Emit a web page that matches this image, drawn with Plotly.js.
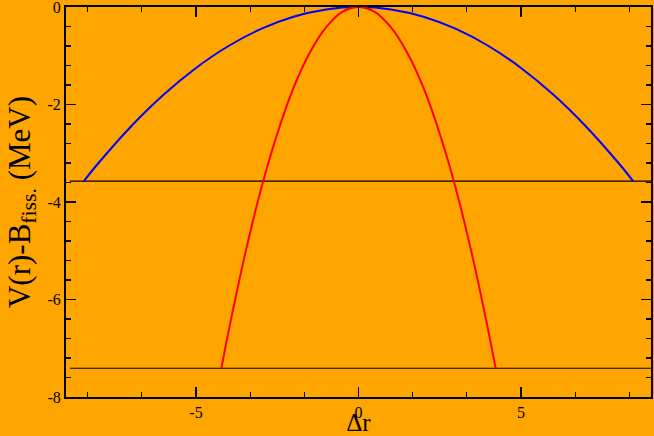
<!DOCTYPE html>
<html>
<head>
<meta charset="utf-8">
<script src="https://cdn.plot.ly/plotly-3.0.1.min.js"></script>
<style>
  html, body { margin: 0; padding: 0; background: #FFA500; }
  #plot { width: 654px; height: 436px; }
</style>
</head>
<body>
<div id="plot"></div>
<script>
// values
const blueX = [-8.45, -8, -7, -6, -5, -4, -3, -2, -1, 0, 1, 2, 3, 4, 5, 6, 7, 8, 8.45];
const blueY = [-3.57, -3.2, -2.45, -1.8, -1.25, -0.8, -0.45, -0.2, -0.05, 0, -0.05, -0.2, -0.45, -0.8, -1.25, -1.8, -2.45, -3.2, -3.57];

const redX = [-4.22, -4, -3.5, -3, -2.5, -2, -1.5, -1, -0.5, 0, 0.5, 1, 1.5, 2, 2.5, 3, 3.5, 4, 4.22];
const redY = [-7.41, -6.66, -5.1, -3.74, -2.6, -1.66, -0.94, -0.42, -0.1, 0, -0.1, -0.42, -0.94, -1.66, -2.6, -3.74, -5.1, -6.66, -7.41];

const levelX = [-8.88, 9];
const levelUpper = [-3.57, -3.57];
const levelLower = [-7.41, -7.41];

const yTicks = [-8, -6, -4, -2, 0];
const xTicks = [-5, 0, 5];

const traces = [
  { x: levelX, y: levelUpper, mode: 'lines', line: { color: '#000000', width: 1.2 } },
  { x: levelX, y: levelLower, mode: 'lines', line: { color: '#000000', width: 1.2 } },
  { x: blueX, y: blueY, mode: 'lines', line: { color: '#0000FF', width: 2, shape: 'spline' } },
  { x: redX, y: redY, mode: 'lines', line: { color: '#FF0000', width: 2, shape: 'spline' } }
];

const serif = 'Liberation Serif, Times New Roman, serif';

const layout = {
  width: 654,
  height: 436,
  paper_bgcolor: '#FFA500',
  plot_bgcolor: '#FFA500',
  showlegend: false,
  margin: { l: 66, r: 3, t: 7, b: 39 },
  xaxis: {
    range: [-9, 9],
    tickvals: xTicks,
    ticktext: xTicks.map(String),
    ticks: 'inside',
    ticklen: 10,
    tickwidth: 1.5,
    tickcolor: '#000',
    mirror: 'allticks',
    showline: true,
    linecolor: '#000',
    linewidth: 2,
    showgrid: false,
    zeroline: false,
    ticklabeloverflow: 'allow',
    minor: { dtick: 5 / 3, tick0: 0, ticks: 'inside', ticklen: 5, tickcolor: '#000', tickwidth: 1.2, showgrid: false },
    tickfont: { family: serif, size: 16, color: '#000' },
    title: { text: 'Δr ', font: { family: serif, size: 25, color: '#000' }, standoff: 2 }
  },
  yaxis: {
    range: [-8, 0],
    tickvals: yTicks,
    ticktext: yTicks.map(String),
    ticks: 'inside',
    ticklen: 10,
    tickwidth: 1.5,
    tickcolor: '#000',
    mirror: 'allticks',
    showline: true,
    linecolor: '#000',
    linewidth: 2,
    showgrid: false,
    zeroline: false,
    ticklabeloverflow: 'allow',
    minor: { dtick: 0.4, tick0: 0, ticks: 'inside', ticklen: 5, tickcolor: '#000', tickwidth: 1.2, showgrid: false },
    tickfont: { family: serif, size: 16, color: '#000' },
    title: { text: 'V(r)-B<sub>fiss.</sub> (MeV)', font: { family: serif, size: 31, color: '#000' }, standoff: 8 }
  }
};

Plotly.newPlot('plot', traces, layout, { displayModeBar: false, staticPlot: true });
</script>
</body>
</html>
